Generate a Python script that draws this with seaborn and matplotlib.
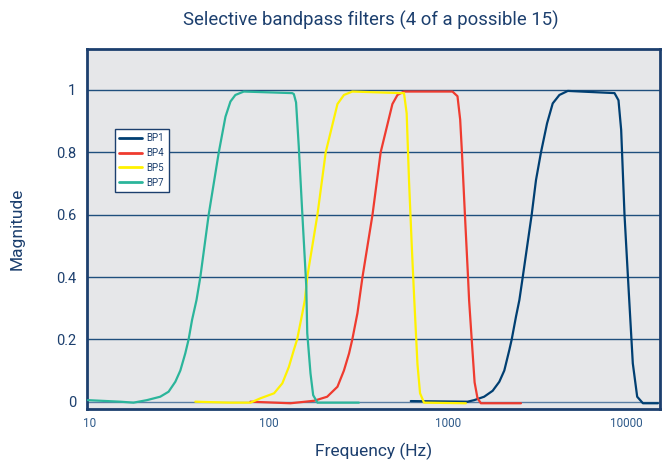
import matplotlib
matplotlib.use("Agg")
import matplotlib.pyplot as plt
import seaborn as sns
import pandas as pd
from matplotlib.ticker import FixedLocator, NullLocator

# ---------- data ----------
bp7_freq = [9.73, 14.8, 17.5, 20.8, 24.7, 27.5, 30.0, 32.0, 34.1, 35.6, 37.2, 39.4,
            41.4, 46.1, 52.5, 57.2, 61.0, 65.0, 72.4,
            135, 138, 142, 147, 154, 162, 164, 171, 177, 187, 319]
bp7_mag = [0.005, 0.0, -0.003, 0.005, 0.016, 0.032, 0.064, 0.10, 0.155, 0.20, 0.262, 0.326,
           0.40, 0.60, 0.80, 0.914, 0.963, 0.984, 0.995,
           0.99, 0.987, 0.96, 0.82, 0.60, 0.37, 0.22, 0.091, 0.021, -0.003, -0.003]

bp5_freq = [38.8, 60, 78.9, 89.8, 107, 119, 129.5, 138, 144, 154, 159, 164, 187, 208,
            242, 263, 293, 547, 570, 590, 608, 630, 649, 678, 701, 738, 1265]
bp5_mag = [0.0, -0.003, -0.003, 0.011, 0.027, 0.059, 0.112, 0.166, 0.20, 0.284, 0.326,
           0.40, 0.60, 0.80, 0.955, 0.984, 0.995, 0.99, 0.99, 0.925, 0.71, 0.50, 0.34,
           0.12, 0.027, -0.003, -0.005]

bp4_freq = [78.9, 132, 179, 212, 242, 263, 281, 293, 313, 334, 380, 422, 491, 524, 570,
            1064, 1135, 1175, 1202, 1249, 1300, 1318, 1363, 1415, 1469, 1534, 2570]
bp4_mag = [0.0, -0.005, 0.003, 0.016, 0.048, 0.10, 0.155, 0.20, 0.284, 0.40, 0.60, 0.80,
           0.955, 0.984, 0.995, 0.995, 0.98, 0.905, 0.80, 0.60, 0.40, 0.326, 0.20, 0.062,
           0.011, -0.005, -0.005]

bp1_freq = [622, 1292, 1407, 1600, 1785, 1945, 2074, 2213, 2282, 2411, 2518, 2630,
            2951, 3119, 3326, 3597, 3869, 4216, 4697, 8574, 9023, 9340, 9750, 10310,
            10850, 11480, 12360, 15000]
bp1_mag = [0.002, 0.0, 0.005, 0.016, 0.035, 0.064, 0.10, 0.166, 0.20, 0.273, 0.326, 0.40,
           0.60, 0.711, 0.80, 0.893, 0.957, 0.984, 0.997, 0.99, 0.967, 0.872, 0.60, 0.348,
           0.123, 0.016, -0.005, -0.005]

series_names = ["BP1", "BP4", "BP5", "BP7"]
x_ticks = [10, 100, 1000, 10000]
x_tick_labels = ["10", "100", "1000", "10000"]
y_ticks = [0, 0.2, 0.4, 0.6, 0.8, 1]
y_tick_labels = ["0", "0.2", "0.4", "0.6", "0.8", "1"]

frames = []
for name, f, m in zip(series_names,
                      [bp1_freq, bp4_freq, bp5_freq, bp7_freq],
                      [bp1_mag, bp4_mag, bp5_mag, bp7_mag]):
    frames.append(pd.DataFrame({"freq": f, "mag": m, "filter": name}))
df = pd.concat(frames, ignore_index=True)

# ---------- style ----------
navy = "#1c3f6e"
palette = {"BP1": "#003f72", "BP4": "#ef3b2f", "BP5": "#fff200", "BP7": "#2bb59b"}

sns.set_style("white")
plt.rcParams["font.family"] = ["Roboto", "DejaVu Sans"]

fig = plt.figure(figsize=(6.65, 4.61), dpi=100)
ax = fig.add_axes([87 / 665, 1 - 409 / 461, (660 - 87) / 665, (409 - 49) / 461])
ax.set_facecolor("#e6e7e9")

for y in y_ticks:
    ax.axhline(y, color="#1f4f7d" if y > 0 else "#5a7ea3", linewidth=1.0, zorder=1)

sns.lineplot(data=df, x="freq", y="mag", hue="filter", hue_order=series_names,
             palette=palette, sort=False, estimator=None, linewidth=1.6,
             ax=ax, zorder=3)

ax.set_xscale("log")
ax.set_xlim(9.62, 15400)
ax.set_ylim(-0.0234, 1.1315)
ax.xaxis.set_major_locator(FixedLocator(x_ticks))
ax.xaxis.set_minor_locator(NullLocator())
ax.set_xticklabels(x_tick_labels)
ax.set_yticks(y_ticks)
ax.set_yticklabels(y_tick_labels)
ax.tick_params(axis="x", direction="in", length=4, width=1, color=navy,
               labelsize=8.5, labelcolor="#2e5a8a", pad=6)
ax.tick_params(axis="y", length=0, labelsize=10.5, labelcolor=navy, pad=8)

for sp in ax.spines.values():
    sp.set_color(navy)
    sp.set_linewidth(2.0)
    sp.set_visible(True)

ax.set_xlabel("Frequency (Hz)", fontsize=12.5, color=navy, labelpad=9)
ax.set_ylabel("Magnitude", fontsize=12.5, color=navy, labelpad=22)
fig.text(0.557, 1 - 20 / 461, "Selective bandpass filters (4 of a possible 15)",
         ha="center", va="center", fontsize=13.3, color=navy)

leg = ax.legend(loc="upper left", bbox_to_anchor=(0.04, 0.792), fontsize=7,
                frameon=True, fancybox=False, handlelength=2.4, handletextpad=0.4,
                borderpad=0.45, labelspacing=0.5, labelcolor=navy)
leg.get_frame().set_edgecolor(navy)
leg.get_frame().set_linewidth(1.0)
leg.get_frame().set_facecolor("white")
leg.get_frame().set_alpha(1)
for line in leg.get_lines():
    line.set_linewidth(2.0)

fig.savefig("out.png", dpi=100)
